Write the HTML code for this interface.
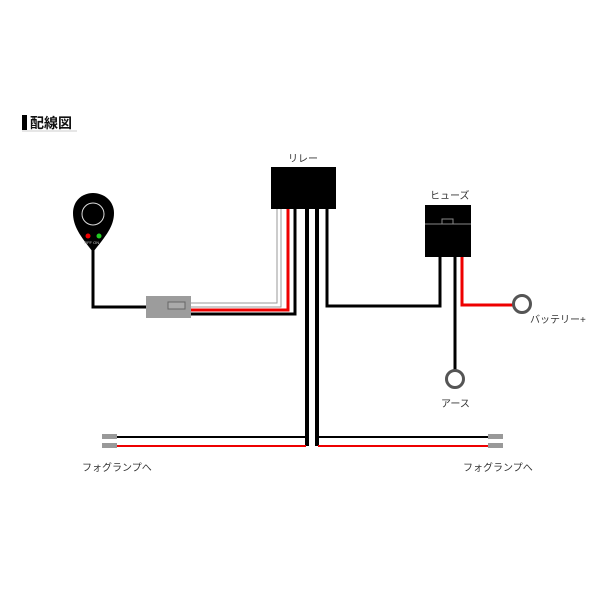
<!DOCTYPE html>
<html><head><meta charset="utf-8"><style>
html,body{margin:0;padding:0;background:#fff;width:600px;height:600px;overflow:hidden}
svg{display:block}
text{font-family:"Liberation Sans","Noto Sans CJK JP",sans-serif;fill:#333}
</style></head><body>
<svg width="600" height="600" viewBox="0 0 600 600">
<rect x="22" y="115" width="5" height="15" fill="#000"/>
<text x="30" y="128" font-size="14" font-weight="bold" fill="#111" style="fill:#111">配線図</text>
<line x1="22" y1="131" x2="77" y2="131" stroke="#ccc" stroke-width="1"/>

<!-- switch -->
<path d="M93,252 C80,236 73,226 73,213 C73,201 82,193 93,193 C104,193 114,201 114,213 C114,226 106,236 93,252 Z" fill="#000"/>
<circle cx="93" cy="214" r="11" fill="none" stroke="#ddd" stroke-width="1"/>
<circle cx="88" cy="236" r="2.5" fill="#e00"/>
<circle cx="99" cy="236" r="2.5" fill="#2c2"/>
<text x="84" y="244" font-size="4" fill="#ccc" style="fill:#ccc">OFF ON</text>
<polyline points="93,250 93,307 148,307" fill="none" stroke="#000" stroke-width="3"/>

<!-- connector -->
<polyline points="277,209 277,303 190,303" fill="none" stroke="#999" stroke-width="1"/>
<polyline points="281,209 281,307 190,307" fill="none" stroke="#999" stroke-width="1"/>
<polyline points="288,209 288,310 190,310" fill="none" stroke="#e00" stroke-width="3"/>
<polyline points="295,209 295,314 190,314" fill="none" stroke="#000" stroke-width="3"/>
<rect x="146" y="296" width="45" height="22" fill="#9c9c9c"/>
<rect x="168" y="302" width="17" height="7" fill="#aaa" stroke="#666" stroke-width="1"/>

<!-- relay -->
<rect x="271" y="167" width="65" height="42" fill="#000"/>
<text x="288" y="162" font-size="10">リレー</text>
<line x1="307" y1="209" x2="307" y2="446" stroke="#000" stroke-width="4"/>
<line x1="317" y1="209" x2="317" y2="446" stroke="#000" stroke-width="4"/>
<polyline points="327,209 327,306 440,306 440,257" fill="none" stroke="#000" stroke-width="3"/>

<!-- fog wires -->
<line x1="117" y1="437" x2="306" y2="437" stroke="#000" stroke-width="2"/>
<line x1="117" y1="446" x2="306" y2="446" stroke="#e00" stroke-width="2"/>
<line x1="318" y1="437" x2="488" y2="437" stroke="#000" stroke-width="2"/>
<line x1="318" y1="446" x2="488" y2="446" stroke="#e00" stroke-width="2"/>
<rect x="102" y="434" width="15" height="5" fill="#999"/>
<rect x="102" y="443" width="15" height="5" fill="#999"/>
<rect x="488" y="434" width="15" height="5" fill="#999"/>
<rect x="488" y="443" width="15" height="5" fill="#999"/>
<text x="82" y="471" font-size="10">フォグランプへ</text>
<text x="463" y="471" font-size="10">フォグランプへ</text>

<!-- fuse -->
<rect x="425" y="205" width="46" height="52" fill="#000"/>
<line x1="425" y1="224" x2="471" y2="224" stroke="#888" stroke-width="1"/>
<rect x="442" y="219" width="11" height="5" fill="none" stroke="#888" stroke-width="1"/>
<text x="430" y="199" font-size="10">ヒューズ</text>
<line x1="455" y1="257" x2="455" y2="371" stroke="#000" stroke-width="3"/>
<circle cx="455" cy="379" r="8.5" fill="#fff" stroke="#555" stroke-width="3"/>
<text x="441" y="407" font-size="10">アース</text>
<polyline points="462,257 462,305 514,305" fill="none" stroke="#e00" stroke-width="3"/>
<circle cx="522" cy="304" r="8.5" fill="#fff" stroke="#555" stroke-width="3"/>
<text x="530" y="323" font-size="10">バッテリー+</text>
</svg>
</body></html>
